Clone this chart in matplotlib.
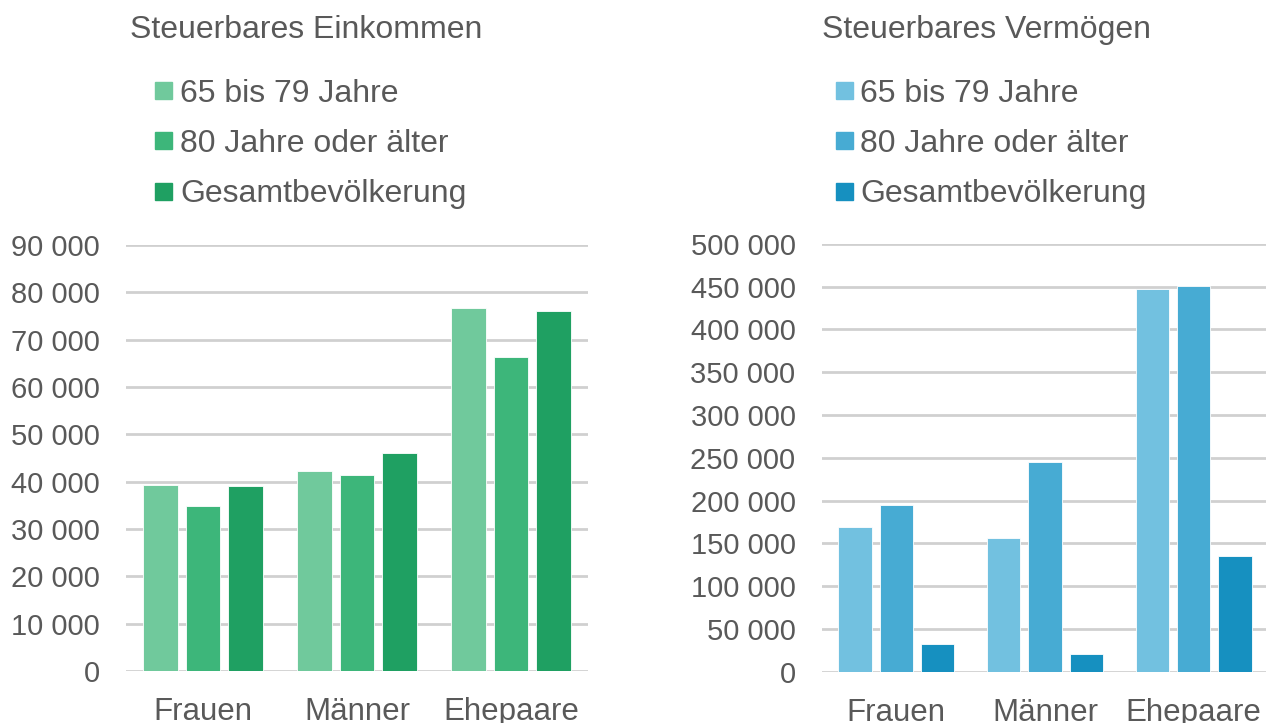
import numpy as np
import matplotlib
matplotlib.use('Agg')
import matplotlib.pyplot as plt
from matplotlib.patches import Rectangle
from matplotlib.ticker import FuncFormatter

# Daten
kategorien = ['Frauen', 'Männer', 'Ehepaare']
serien = ['65 bis 79 Jahre', '80 Jahre oder älter', 'Gesamtbevölkerung']

einkommen_65_79 = [39300, 42300, 76600]
einkommen_80plus = [34900, 41400, 66300]
einkommen_gesamt = [39100, 46100, 76100]

vermoegen_65_79 = [169500, 156600, 447000]
vermoegen_80plus = [195200, 245500, 451200]
vermoegen_gesamt = [32000, 20300, 135600]

gruen = ['#70c99c', '#3db67a', '#1fa062']
blau = ['#72c1e0', '#47abd3', '#1690c0']
textfarbe = '#595959'

plt.rcParams['font.family'] = ['Liberation Sans', 'DejaVu Sans']

fig = plt.figure(figsize=(12.66, 7.23), dpi=100)
W, H = 1266, 723


def fmt(v, pos):
    return f'{int(v):,}'.replace(',', ' ')


def balken(ax, werte, farben, ymax, ystep):
    x = np.arange(len(kategorien))
    step, breite = 0.278, 0.225
    for j, (w, c) in enumerate(zip(werte, farben)):
        ax.bar(x + (j - 1) * step, w, width=breite, color=c,
               edgecolor='white', linewidth=0.6, zorder=3)
    ax.set_xlim(-0.5, 2.5)
    ax.set_ylim(0, ymax)
    ax.set_yticks(np.arange(0, ymax + 1, ystep))
    ax.yaxis.set_major_formatter(FuncFormatter(fmt))
    ax.set_xticks(x)
    ax.set_xticklabels(kategorien)
    ax.grid(axis='y', color='#d0d0d0', linewidth=2, zorder=0)
    for s in ax.spines.values():
        s.set_visible(False)
    ax.tick_params(axis='y', length=0, pad=19, labelsize=21, labelcolor=textfarbe)
    ax.tick_params(axis='x', length=0, pad=19, labelsize=22.5, labelcolor=textfarbe)
    ax.set_axisbelow(True)


def legende(x0, titel, farben, dq, dt):
    # titel + legendeneintraege, positionen in pixeln
    fig.text(x0 / W, 1 - 37.7 / H, titel, fontsize=23, color=textfarbe,
             ha='left', va='baseline')
    for i, (name, c) in enumerate(zip(serien, farben)):
        yb = 101.5 + i * 50.4
        fig.patches.append(Rectangle(((x0 + dq) / W, 1 - (yb - 2.5) / H), 17 / W, 17 / H,
                                     transform=fig.transFigure, color=c))
        fig.text((x0 + dt) / W, 1 - yb / H, name, fontsize=23, color=textfarbe,
                 ha='left', va='baseline')


ax1 = fig.add_axes([126 / W, 52 / H, 462 / W, 426 / H])
balken(ax1, [einkommen_65_79, einkommen_80plus, einkommen_gesamt], gruen, 90000, 10000)

ax2 = fig.add_axes([822 / W, 51.3 / H, 446 / W, 427.8 / H])
balken(ax2, [vermoegen_65_79, vermoegen_80plus, vermoegen_gesamt], blau, 500000, 50000)

legende(130, 'Steuerbares Einkommen', gruen, 25, 50)
legende(822, 'Steuerbares Vermögen', blau, 14, 38)

fig.savefig('out.png', dpi=100)
